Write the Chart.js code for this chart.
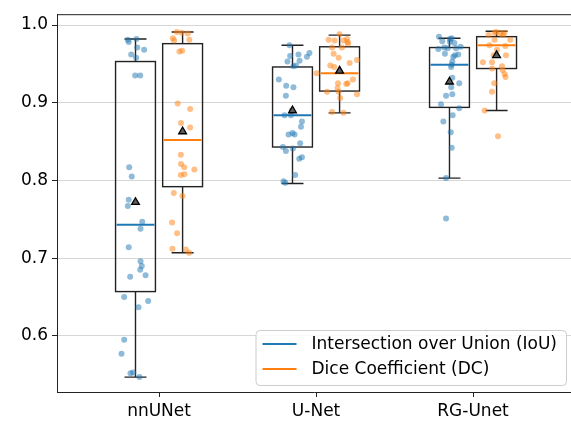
<!DOCTYPE html>
<html>
<head>
<meta charset="utf-8">
<script src="https://cdn.jsdelivr.net/npm/chart.js@4.4.0/dist/chart.umd.min.js"></script>
<style>
  html, body { margin: 0; padding: 0; background: #fff; }
  #wrap { width: 571px; height: 426px; }
</style>
</head>
<body>
<div id="wrap"><canvas id="chart" width="571" height="426"></canvas></div>
<script>
const categories = ['nnUNet', 'U-Net', 'RG-Unet'];
const seriesNames = ['Intersection over Union (IoU)', 'Dice Coefficient (DC)'];
const yTicks = [0.6, 0.7, 0.8, 0.9, 1.0];

// box stats, one per category
const iouLow = [0.547, 0.796, 0.803];
const iouQ1 = [0.657, 0.843, 0.894];
const iouMedian = [0.743, 0.884, 0.949];
const iouQ3 = [0.953, 0.946, 0.971];
const iouHigh = [0.982, 0.974, 0.983];
const iouMean = [0.772, 0.890, 0.927];

const dcLow = [0.707, 0.887, 0.890];
const dcQ1 = [0.792, 0.915, 0.944];
const dcMedian = [0.852, 0.938, 0.974];
const dcQ3 = [0.976, 0.972, 0.985];
const dcHigh = [0.991, 0.987, 0.992];
const dcMean = [0.863, 0.941, 0.961];

// per-image scores and their strip jitter (in category units)
const nnunetIou = [0.981, 0.978, 0.982, 0.971, 0.968, 0.962, 0.958, 0.935, 0.935, 0.817, 0.805, 0.775, 0.767, 0.747, 0.738,
    0.714, 0.696, 0.690, 0.685, 0.676, 0.678, 0.650, 0.645, 0.637, 0.595, 0.577, 0.552, 0.553, 0.547];
const nnunetIouJitter = [-0.049, -0.043, 0.006, 0.011, 0.055, -0.027, 0.004, -0.002, 0.030, -0.040, -0.024, -0.043, -0.049, 0.043, 0.032,
    -0.043, 0.032, 0.040, 0.030, -0.034, 0.064, -0.072, 0.081, 0.019, -0.072, -0.089, -0.032, -0.015, 0.025];
const nnunetDc = [0.983, 0.980, 0.991, 0.990, 0.989, 0.981, 0.966, 0.967, 0.899, 0.892, 0.874, 0.868, 0.833, 0.821, 0.817,
    0.814, 0.807, 0.808, 0.784, 0.780, 0.746, 0.732, 0.712, 0.711, 0.707];
const nnunetDcJitter = [-0.062, -0.054, -0.037, -0.006, 0.033, 0.043, -0.020, -0.003, -0.031, 0.048, -0.010, 0.048, -0.011, -0.010, 0.010,
    0.075, -0.011, 0.011, -0.056, -0.001, -0.067, -0.035, -0.065, 0.020, 0.041];

const unetIou = [0.974, 0.960, 0.962, 0.954, 0.959, 0.964, 0.953, 0.947, 0.948, 0.930, 0.922, 0.920, 0.909, 0.890, 0.884,
    0.884, 0.876, 0.869, 0.861, 0.859, 0.859, 0.848, 0.843, 0.838, 0.841, 0.828, 0.830, 0.807, 0.799, 0.797];
const unetIouJitter = [-0.019, -0.015, 0.038, 0.045, 0.092, 0.108, -0.032, 0.006, 0.022, -0.087, -0.040, 0.006, -0.042, -0.004, -0.051,
    -0.010, 0.060, 0.054, 0, -0.025, 0.013, 0.049, -0.061, -0.042, 0.003, 0.043, 0.060, 0.017, -0.057, -0.046];
const unetDc = [0.988, 0.982, 0.981, 0.980, 0.980, 0.978, 0.976, 0.971, 0.971, 0.963, 0.958, 0.955, 0.951, 0.948, 0.946,
    0.938, 0.930, 0.925, 0.924, 0.925, 0.919, 0.914, 0.914, 0.911, 0.906, 0.888, 0.887];
const unetDcJitter = [0, 0.047, -0.070, -0.032, 0.025, 0.051, 0.054, -0.048, 0.015, -0.038, -0.006, 0.111, 0.064, -0.059, -0.034,
    -0.146, 0.085, -0.010, 0.043, 0.051, -0.013, -0.006, -0.080, 0.111, 0.004, -0.048, 0.025];

const rgunetIou = [0.985, 0.983, 0.982, 0.979, 0.978, 0.977, 0.971, 0.969, 0.970, 0.970, 0.972, 0.963, 0.961, 0.959, 0.962, 0.953,
    0.949, 0.946, 0.932, 0.925, 0.920, 0.911, 0.909, 0.898, 0.893, 0.884, 0.876, 0.862, 0.842, 0.803, 0.751];
const rgunetIouJitter = [-0.067, 0.014, 0.003, -0.046, 0.003, 0.031, -0.033, -0.071, -0.011, 0.041, 0.071, -0.029, 0.035, 0.024, 0.056, 0.018,
    0.014, 0.010, 0.018, 0.062, 0.011, 0.018, -0.022, -0.054, 0.062, 0.020, -0.039, 0.008, 0.014, -0.022, -0.022];
const rgunetDc = [0.987, 0.990, 0.989, 0.987, 0.990, 0.981, 0.981, 0.974, 0.973, 0.968, 0.961, 0.952, 0.952, 0.947, 0.944,
    0.942, 0.937, 0.933, 0.925, 0.914, 0.890, 0.857, 0.991, 0.961];
const rgunetDcJitter = [-0.051, -0.013, 0.024, 0.041, 0.049, -0.013, 0.087, -0.045, 0.055, 0.003, 0.060, -0.087, -0.029, 0.034, -0.029,
    0.038, 0.051, 0.057, -0.015, -0.029, -0.076, 0.009, -0.003, -0.019];

const iouSamples = [nnunetIou, unetIou, rgunetIou];
const iouJitter = [nnunetIouJitter, unetIouJitter, rgunetIouJitter];
const dcSamples = [nnunetDc, unetDc, rgunetDc];
const dcJitter = [nnunetDcJitter, unetDcJitter, rgunetDcJitter];

const FONT = "'DejaVu Sans', sans-serif";
const BLUE = '#1f77b4';
const ORANGE = '#ff7f0e';
const SHIFT = 0.15;      // each series sits left/right of the category
const BOX_HALF = 0.127;
const CAP_HALF = 0.07;

const series = [
    { name: seriesNames[0], color: BLUE, shift: -SHIFT, low: iouLow, q1: iouQ1, med: iouMedian, q3: iouQ3, high: iouHigh, mean: iouMean, samples: iouSamples, jitter: iouJitter },
    { name: seriesNames[1], color: ORANGE, shift: SHIFT, low: dcLow, q1: dcQ1, med: dcMedian, q3: dcQ3, high: dcHigh, mean: dcMean, samples: dcSamples, jitter: dcJitter }
];

function stripPoints(s) {
    const pts = [];
    s.samples.forEach((vals, i) => {
        vals.forEach((v, k) => pts.push({ x: i + 1 + s.shift + s.jitter[i][k], y: v }));
    });
    return pts;
}

const meanPoints = [];
series.forEach(s => s.mean.forEach((m, i) => meanPoints.push({ x: i + 1 + s.shift, y: m })));

// box + whiskers, drawn under the strip points
const boxPlugin = {
    id: 'boxes',
    beforeDatasetsDraw(chart) {
        const { ctx, scales: { x, y } } = chart;
        ctx.save();
        series.forEach(s => {
            categories.forEach((c, i) => {
                const pos = i + 1 + s.shift;
                const xl = x.getPixelForValue(pos - BOX_HALF);
                const xr = x.getPixelForValue(pos + BOX_HALF);
                const xc = x.getPixelForValue(pos);
                const cl = x.getPixelForValue(pos - CAP_HALF);
                const cr = x.getPixelForValue(pos + CAP_HALF);
                const yq1 = y.getPixelForValue(s.q1[i]);
                const yq3 = y.getPixelForValue(s.q3[i]);
                const ylo = y.getPixelForValue(s.low[i]);
                const yhi = y.getPixelForValue(s.high[i]);
                const ymed = y.getPixelForValue(s.med[i]);

                ctx.strokeStyle = '#222';
                ctx.lineWidth = 1.4;
                ctx.beginPath();
                ctx.moveTo(xc, yq1); ctx.lineTo(xc, ylo);
                ctx.moveTo(cl, ylo); ctx.lineTo(cr, ylo);
                ctx.moveTo(xc, yq3); ctx.lineTo(xc, yhi);
                ctx.moveTo(cl, yhi); ctx.lineTo(cr, yhi);
                ctx.stroke();
                ctx.strokeRect(xl, yq3, xr - xl, yq1 - yq3);

                ctx.strokeStyle = s.color;
                ctx.lineWidth = 2;
                ctx.beginPath();
                ctx.moveTo(xl + 1, ymed); ctx.lineTo(xr - 1, ymed);
                ctx.stroke();
            });
        });
        ctx.restore();
    },
    afterDraw(chart) {
        const { ctx, chartArea: a } = chart;
        ctx.save();
        // top spine (right spine falls just outside the picture)
        ctx.strokeStyle = '#222';
        ctx.lineWidth = 1;
        ctx.beginPath();
        ctx.moveTo(a.left, a.top + 0.5); ctx.lineTo(a.right, a.top + 0.5);
        ctx.stroke();

        // legend, lower right inside the axes
        ctx.font = '17px ' + FONT;
        const textW = Math.max(...series.map(s => ctx.measureText(s.name).width));
        const w = 7 + 34 + 15 + textW + 9;
        const h = 55;
        const lx = a.right - 5 - w;
        const ly = a.bottom - 7 - h;
        ctx.fillStyle = 'rgba(255,255,255,0.85)';
        ctx.strokeStyle = '#cccccc';
        ctx.lineWidth = 1;
        ctx.beginPath();
        ctx.roundRect(lx + 0.5, ly + 0.5, w, h, 4);
        ctx.fill();
        ctx.stroke();
        series.forEach((s, k) => {
            const ry = ly + 14 + k * 25;
            ctx.strokeStyle = s.color;
            ctx.lineWidth = 2;
            ctx.beginPath();
            ctx.moveTo(lx + 7, ry); ctx.lineTo(lx + 41, ry);
            ctx.stroke();
            ctx.fillStyle = '#000';
            ctx.textBaseline = 'middle';
            ctx.fillText(s.name, lx + 56, ry + 1);
        });
        ctx.restore();
    }
};

new Chart(document.getElementById('chart'), {
    type: 'scatter',
    data: {
        datasets: [
            {
                label: 'mean',
                data: meanPoints,
                pointStyle: 'triangle',
                pointRadius: 4.5,
                backgroundColor: '#5c5c5c',
                borderColor: '#000',
                borderWidth: 1.3,
                order: 0
            },
            ...series.map(s => ({
                label: s.name,
                data: stripPoints(s),
                pointRadius: 3,
                borderWidth: 0,
                backgroundColor: s.color + '80',
                order: 1
            }))
        ]
    },
    options: {
        responsive: false,
        animation: false,
        devicePixelRatio: 1,
        layout: { autoPadding: false, padding: { top: 8, right: 0, left: 0, bottom: 0 } },
        plugins: { legend: { display: false }, tooltip: { enabled: false } },
        scales: {
            x: {
                type: 'linear',
                min: 0.35,
                max: 3.624,
                afterBuildTicks: axis => { axis.ticks = categories.map((c, i) => ({ value: i + 1 })); },
                afterFit: axis => { axis.height = 34; },
                ticks: {
                    callback: v => categories[Math.round(v) - 1],
                    color: '#000',
                    font: { family: FONT, size: 17 },
                    padding: 4,
                    maxRotation: 0
                },
                grid: { drawOnChartArea: false, tickLength: 5, tickColor: '#222' },
                border: { color: '#222', width: 1 }
            },
            y: {
                min: 0.5278,
                max: 1.0139,
                afterBuildTicks: axis => { axis.ticks = yTicks.map(v => ({ value: v })); },
                afterFit: axis => { axis.width = 57; },
                ticks: {
                    callback: v => v.toFixed(1),
                    color: '#000',
                    font: { family: FONT, size: 17 },
                    padding: 4
                },
                grid: { color: '#d6d6d6', lineWidth: 1, tickLength: 5, tickColor: '#222' },
                border: { color: '#222', width: 1 }
            }
        }
    },
    plugins: [boxPlugin]
});
</script>
</body>
</html>
